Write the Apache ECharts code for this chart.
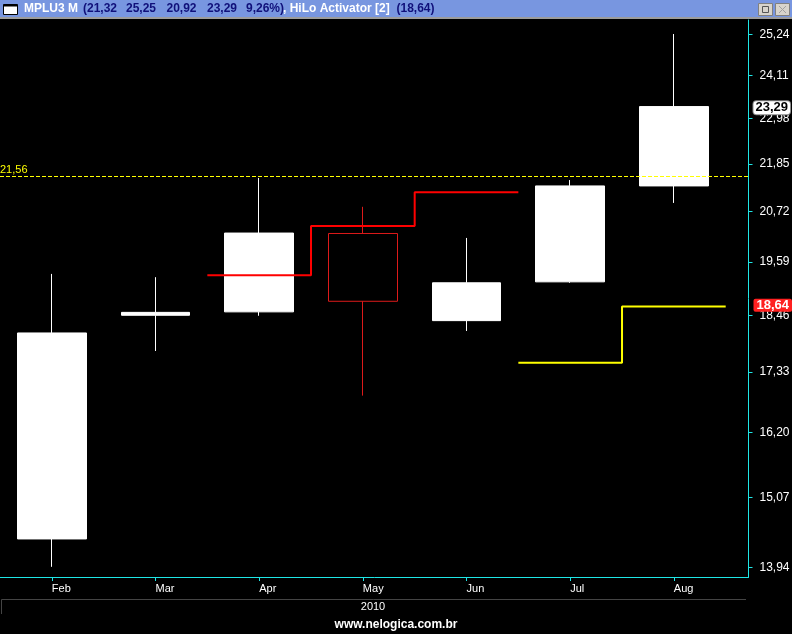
<!DOCTYPE html>
<html>
<head>
<meta charset="utf-8">
<script src="https://cdn.jsdelivr.net/npm/echarts@6/dist/echarts.min.js"></script>
<style>
html,body{margin:0;padding:0;background:#000;}
#chart{width:792px;height:634px;}
</style>
</head>
<body>
<div id="chart"></div>
<script>
// ---- data ----
const months = ['Feb', 'Mar', 'Apr', 'May', 'Jun', 'Jul', 'Aug'];
const openVals  = [14.39, 18.46, 18.53, 20.22, 18.35, 19.16, 21.32];
const closeVals = [18.10, 18.52, 20.23, 18.75, 19.14, 21.32, 23.29];
const lowVals   = [13.95, 17.74, 18.45, 16.88, 18.14, 19.14, 20.92];
const highVals  = [19.33, 19.26, 21.51, 20.83, 20.12, 21.46, 25.25];
const hiloSell  = [null, null, 19.30, 20.39, 21.17, null, null];
const hiloBuy   = [null, null, null, null, null, 17.51, 18.64];
const yTickVals = [13.94, 15.07, 16.20, 17.33, 18.46, 19.59, 20.72, 21.85, 22.98, 24.11, 25.24];
const refLevel  = 21.56;
const lastClose = 23.29;
const lastHilo  = 18.64;
const changePct = '9,26%';
const yearLabel = '2010';

// ---- helpers ----
const L = v => Math.log(v);
const fmt = v => v.toFixed(2).replace('.', ',');

const candleData = months.map((m, i) => [i, L(openVals[i]), L(closeVals[i]), L(lowVals[i]), L(highVals[i])]);
function stepData(arr) {
  const out = [];
  arr.forEach((v, i) => {
    if (v == null) return;
    out.push([i - 0.5, L(v)], [i + 0.5, L(v)]);
  });
  return out;
}

const chart = echarts.init(document.getElementById('chart'), null, {renderer: 'canvas'});

const FONT = 'Liberation Sans, Arial, sans-serif';
const last = months.length - 1;
const titleSegs = [
  {t: 'MPLU3 M', x: 24, c: '#ffffff'},
  {t: '(' + fmt(openVals[last]), x: 83, c: '#10107a'},
  {t: fmt(highVals[last]), x: 126, c: '#10107a'},
  {t: fmt(lowVals[last]), x: 166.5, c: '#10107a'},
  {t: fmt(closeVals[last]), x: 207, c: '#10107a'},
  {t: changePct + ')', x: 246, c: '#10107a'},
  {t: ', HiLo Activator [2]', x: 283, c: '#ffffff'},
  {t: '(' + fmt(lastHilo) + ')', x: 396.5, c: '#10107a'}
];

const graphics = [
  {type: 'rect', shape: {x: 0, y: 0, width: 792, height: 17}, style: {fill: '#7896e0'}, silent: true},
  {type: 'rect', shape: {x: 0, y: 17, width: 792, height: 2}, style: {fill: '#9c9c9c'}, silent: true},
  {type: 'rect', shape: {x: 3.5, y: 4.5, width: 14, height: 10}, style: {fill: '#ffffff', stroke: '#000', lineWidth: 1}, silent: true},
  {type: 'rect', shape: {x: 3.5, y: 4.5, width: 14, height: 2}, style: {fill: '#000'}, silent: true},
  {type: 'rect', shape: {x: 758.5, y: 3.5, width: 14, height: 12}, style: {fill: '#d8d4cc', stroke: '#808080', lineWidth: 1}, silent: true},
  {type: 'rect', shape: {x: 762.5, y: 6.5, width: 6, height: 6}, style: {fill: 'none', stroke: '#555', lineWidth: 1}, silent: true},
  {type: 'rect', shape: {x: 775.5, y: 3.5, width: 14, height: 12}, style: {fill: '#d8d4cc', stroke: '#808080', lineWidth: 1}, silent: true},
  {type: 'line', shape: {x1: 779, y1: 6, x2: 786, y2: 13}, style: {stroke: '#a0a0a0', lineWidth: 1}, silent: true},
  {type: 'line', shape: {x1: 786, y1: 6, x2: 779, y2: 13}, style: {stroke: '#a0a0a0', lineWidth: 1}, silent: true},
  {type: 'line', shape: {x1: 1.5, y1: 599.5, x2: 746, y2: 599.5}, style: {stroke: '#444', lineWidth: 1}, silent: true},
  {type: 'line', shape: {x1: 1.5, y1: 599.5, x2: 1.5, y2: 614}, style: {stroke: '#444', lineWidth: 1}, silent: true},
  {type: 'text', x: 373, y: 606.5, style: {text: yearLabel, fill: '#fff', font: '11px ' + FONT, align: 'center', verticalAlign: 'middle'}, silent: true},
  {type: 'text', x: 396, y: 624.5, style: {text: 'www.nelogica.com.br', fill: '#fff', font: 'bold 12px ' + FONT, align: 'center', verticalAlign: 'middle'}, silent: true}
];
titleSegs.forEach(s => graphics.push({
  type: 'text', x: s.x, y: 9, silent: true,
  style: {text: s.t, fill: s.c, font: 'bold 12px ' + FONT, align: 'left', verticalAlign: 'middle'}
}));

const option = {
  animation: false,
  backgroundColor: '#000000',
  grid: {left: 0, right: 43.5, top: 20, bottom: 57, containLabel: false, outerBoundsMode: 'none'},
  xAxis: {
    type: 'value',
    min: -0.5, max: 6.72,
    axisLine: {show: true, onZero: false, lineStyle: {color: '#1ee6e6', width: 1}},
    axisTick: {show: true, customValues: months.map((m, i) => i), length: 4, lineStyle: {color: '#1ee6e6'}},
    axisLabel: {show: true, customValues: months.map((m, i) => i), formatter: v => months[Math.round(v)],
      color: '#ffffff', fontSize: 11, fontFamily: FONT, align: 'left', margin: 6},
    splitLine: {show: false}
  },
  yAxis: {
    type: 'value',
    position: 'right',
    min: 2.62415, max: 3.24442,
    scale: true,
    axisLine: {show: true, onZero: false, lineStyle: {color: '#1ee6e6', width: 1}},
    axisTick: {show: true, customValues: yTickVals.map(L), length: 4, lineStyle: {color: '#1ee6e6'}},
    axisLabel: {show: true, customValues: yTickVals.map(L), formatter: v => fmt(Math.exp(v)),
      color: '#ffffff', fontSize: 12, fontFamily: FONT, margin: 11},
    splitLine: {show: false}
  },
  series: [
    {
      type: 'candlestick',
      data: candleData,
      encode: {x: 0, y: [1, 2, 3, 4]},
      barWidth: 69,
      itemStyle: {color: '#ffffff', borderColor: '#ffffff', color0: '#000000', borderColor0: '#dd1a1a', borderWidth: 1},
      markLine: {
        silent: true,
        symbol: ['none', 'none'],
        data: [
          {yAxis: L(refLevel), lineStyle: {color: '#ffff00', type: [4, 2], width: 1},
            label: {show: true, position: 'insideStartTop', formatter: fmt(refLevel), color: '#ffff00',
              fontSize: 11, fontFamily: FONT, distance: [0, 1]}},
          {yAxis: L(lastClose), lineStyle: {color: 'rgba(0,0,0,0)', width: 1},
            label: {show: true, position: 'end', formatter: fmt(lastClose), color: '#000', fontWeight: 'bold',
              fontSize: 13, lineHeight: 12, fontFamily: FONT, backgroundColor: '#ffffff', borderColor: '#888', borderWidth: 1,
              borderRadius: 3, padding: [1, 2, 0, 2], distance: 5, offset: [0, 3]}}
        ]
      }
    },
    {
      type: 'line',
      data: stepData(hiloSell),
      symbol: 'none',
      lineStyle: {color: '#ff0000', width: 2},
      z: 3
    },
    {
      type: 'line',
      data: stepData(hiloBuy),
      symbol: 'none',
      lineStyle: {color: '#ffff00', width: 2},
      z: 3,
      markLine: {
        silent: true,
        symbol: ['none', 'none'],
        data: [
          {yAxis: L(lastHilo), lineStyle: {color: 'rgba(0,0,0,0)', width: 1},
            label: {show: true, position: 'end', formatter: fmt(lastHilo), color: '#fff', fontWeight: 'bold',
              fontSize: 13, lineHeight: 12, fontFamily: FONT, backgroundColor: '#ff2020', borderRadius: 2,
              padding: [1, 3, 0, 3], distance: 5, offset: [0, 3]}}
        ]
      }
    }
  ],
  graphic: graphics
};
chart.setOption(option);
</script>
</body>
</html>
